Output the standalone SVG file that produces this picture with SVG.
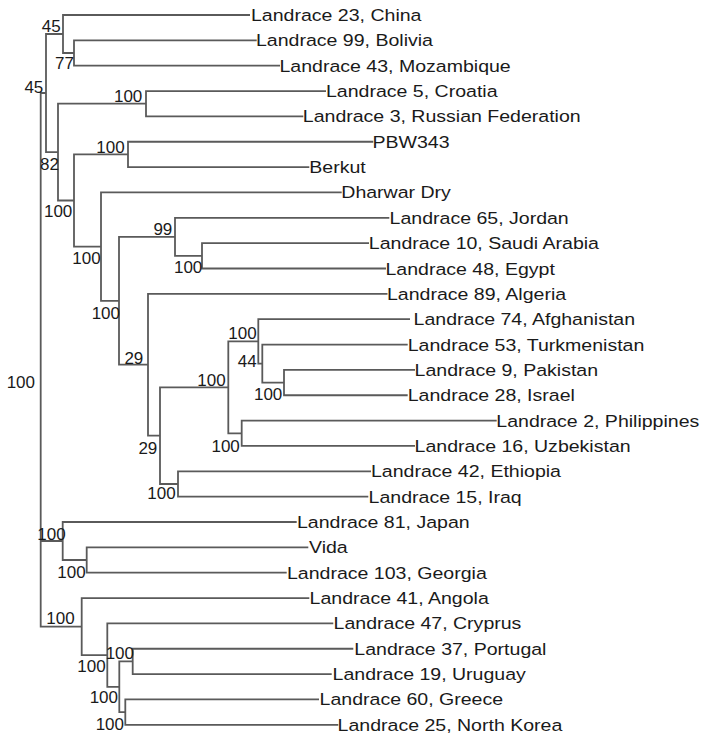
<svg xmlns="http://www.w3.org/2000/svg" width="705" height="736" viewBox="0 0 705 736">
<style>
.e{fill:none;stroke:#5a5a5a;stroke-width:1.8}
.lf{font-family:"Liberation Sans",Arial,sans-serif;font-size:17px;fill:#1a1a1a}
.bs{font-family:"Liberation Sans",Arial,sans-serif;font-size:17px;fill:#1a1a1a;text-anchor:end}
</style>
<rect width="705" height="736" fill="#fff"/>
<g id="connectors">
<path class="e" d="M46 93 H40.7 V626.6 H81.7 M40.7 541 H62.7"/>
<path class="e" d="M63 34 H46 V152.1 H58"/>
<path class="e" d="M250 15 H63 V53 H74"/>
<path class="e" d="M256.7 40.35 H74 V65.7 H280"/>
<path class="e" d="M146 103.7 H58 V200.5 H74"/>
<path class="e" d="M326 91.05 H146 V116.4 H303.3"/>
<path class="e" d="M128 154.4 H74 V246.6 H101"/>
<path class="e" d="M373.3 141.75 H128 V167.1 H309.3"/>
<path class="e" d="M341.7 192.45 H101 V300.8 H119"/>
<path class="e" d="M175 236.8 H119 V364.7 H148"/>
<path class="e" d="M389.3 217.8 H175 V255.8 H202"/>
<path class="e" d="M369 243.15 H202 V268.5 H386"/>
<path class="e" d="M387.5 293.85 H148 V435.6 H160"/>
<path class="e" d="M228.3 387.3 H160 V484 H178"/>
<path class="e" d="M258.3 341.4 H228.3 V433.3 H241.7"/>
<path class="e" d="M410 319.2 H258.3 V363.6 H262.3"/>
<path class="e" d="M407.7 344.55 H262.3 V382.6 H284"/>
<path class="e" d="M415 369.9 H284 V395.25 H407.7"/>
<path class="e" d="M496.7 420.6 H241.7 V445.95 H415"/>
<path class="e" d="M371 471.3 H178 V496.65 H368.3"/>
<path class="e" d="M296.7 522 H62.7 V560 H86.7"/>
<path class="e" d="M308.3 547.35 H86.7 V572.7 H286.7"/>
<path class="e" d="M309.3 598.05 H81.7 V655.1 H107.3"/>
<path class="e" d="M333.3 623.4 H107.3 V686.8 H119.3"/>
<path class="e" d="M132.7 661.4 H119.3 V712.1 H125.3"/>
<path class="e" d="M353.3 648.75 H132.7 V674.1 H331.7"/>
<path class="e" d="M319 699.45 H125.3 V724.8 H338.3"/>
</g>
<g id="internal-nodes">
<g id="nR"><text class="bs" x="35" y="387.7">100</text></g>
<g id="nA"><text class="bs" x="43.3" y="92.7">45</text></g>
<g id="nB"><text class="bs" x="60.6" y="31.5">45</text></g>
<g id="n77"><text class="bs" x="74" y="69">77</text></g>
<g id="nC"><text class="bs" x="59" y="170">82</text></g>
<g id="nD"><text class="bs" x="142.3" y="101.7">100</text></g>
<g id="nE"><text class="bs" x="72.3" y="217.3">100</text></g>
<g id="nF"><text class="bs" x="124.6" y="152.7">100</text></g>
<g id="nG"><text class="bs" x="100.6" y="264">100</text></g>
<g id="nH"><text class="bs" x="120" y="319">100</text></g>
<g id="nI"><text class="bs" x="172.3" y="235">99</text></g>
<g id="nM"><text class="bs" x="202.3" y="272.7">100</text></g>
<g id="nL"><text class="bs" x="143.3" y="364">29</text></g>
<g id="nP"><text class="bs" x="157.3" y="454">29</text></g>
<g id="nQ"><text class="bs" x="225.6" y="385.5">100</text></g>
<g id="nT"><text class="bs" x="256.6" y="339">100</text></g>
<g id="nV"><text class="bs" x="256.6" y="366.7">44</text></g>
<g id="nW"><text class="bs" x="282.3" y="400">100</text></g>
<g id="nU"><text class="bs" x="239.8" y="451.5">100</text></g>
<g id="nS"><text class="bs" x="175.6" y="499.3">100</text></g>
<g id="nJ"><text class="bs" x="65.6" y="540">100</text></g>
<g id="nX"><text class="bs" x="85.6" y="578.3">100</text></g>
<g id="nK"><text class="bs" x="74.6" y="624.3">100</text></g>
<g id="nY"><text class="bs" x="105.6" y="671.7">100</text></g>
<g id="nAA"><text class="bs" x="134" y="659">100</text></g>
<g id="nZ"><text class="bs" x="118" y="703.3">100</text></g>
<g id="nAB"><text class="bs" x="124" y="730">100</text></g>
</g>
<g id="leaves">
<g id="l1"><text class="lf" transform="translate(251 21) scale(1.15 1)">Landrace 23, China</text></g>
<g id="l2"><text class="lf" transform="translate(256 46.3) scale(1.15 1)">Landrace 99, Bolivia</text></g>
<g id="l3"><text class="lf" transform="translate(279.5 71.7) scale(1.15 1)">Landrace 43, Mozambique</text></g>
<g id="l4"><text class="lf" transform="translate(326 97) scale(1.15 1)">Landrace 5, Croatia</text></g>
<g id="l5"><text class="lf" transform="translate(302.8 122.4) scale(1.15 1)">Landrace 3, Russian Federation</text></g>
<g id="l6"><text class="lf" transform="translate(372.5 147.7) scale(1.15 1)">PBW343</text></g>
<g id="l7"><text class="lf" transform="translate(309.3 173.1) scale(1.15 1)">Berkut</text></g>
<g id="l8"><text class="lf" transform="translate(341.3 198.4) scale(1.15 1)">Dharwar Dry</text></g>
<g id="l9"><text class="lf" transform="translate(389.6 223.8) scale(1.15 1)">Landrace 65, Jordan</text></g>
<g id="l10"><text class="lf" transform="translate(368.8 249.1) scale(1.15 1)">Landrace 10, Saudi Arabia</text></g>
<g id="l11"><text class="lf" transform="translate(385.5 274.5) scale(1.15 1)">Landrace 48, Egypt</text></g>
<g id="l12"><text class="lf" transform="translate(387 299.8) scale(1.15 1)">Landrace 89, Algeria</text></g>
<g id="l13"><text class="lf" transform="translate(413.6 325.2) scale(1.15 1)">Landrace 74, Afghanistan</text></g>
<g id="l14"><text class="lf" transform="translate(407.7 350.5) scale(1.15 1)">Landrace 53, Turkmenistan</text></g>
<g id="l15"><text class="lf" transform="translate(414.6 375.9) scale(1.15 1)">Landrace 9, Pakistan</text></g>
<g id="l16"><text class="lf" transform="translate(407.7 401.2) scale(1.15 1)">Landrace 28, Israel</text></g>
<g id="l17"><text class="lf" transform="translate(496.3 426.6) scale(1.15 1)">Landrace 2, Philippines</text></g>
<g id="l18"><text class="lf" transform="translate(414.6 451.9) scale(1.15 1)">Landrace 16, Uzbekistan</text></g>
<g id="l19"><text class="lf" transform="translate(371 477.3) scale(1.15 1)">Landrace 42, Ethiopia</text></g>
<g id="l20"><text class="lf" transform="translate(368.6 502.6) scale(1.15 1)">Landrace 15, Iraq</text></g>
<g id="l21"><text class="lf" transform="translate(297 528) scale(1.15 1)">Landrace 81, Japan</text></g>
<g id="l22"><text class="lf" transform="translate(309 553.3) scale(1.15 1)">Vida</text></g>
<g id="l23"><text class="lf" transform="translate(287 578.7) scale(1.15 1)">Landrace 103, Georgia</text></g>
<g id="l24"><text class="lf" transform="translate(309.6 604) scale(1.15 1)">Landrace 41, Angola</text></g>
<g id="l25"><text class="lf" transform="translate(333.6 629.4) scale(1.15 1)">Landrace 47, Cryprus</text></g>
<g id="l26"><text class="lf" transform="translate(354.3 654.7) scale(1.15 1)">Landrace 37, Portugal</text></g>
<g id="l27"><text class="lf" transform="translate(332.6 680.1) scale(1.15 1)">Landrace 19, Uruguay</text></g>
<g id="l28"><text class="lf" transform="translate(319.6 705.4) scale(1.15 1)">Landrace 60, Greece</text></g>
<g id="l29"><text class="lf" transform="translate(337.6 730.8) scale(1.15 1)">Landrace 25, North Korea</text></g>
</g>
</svg>
